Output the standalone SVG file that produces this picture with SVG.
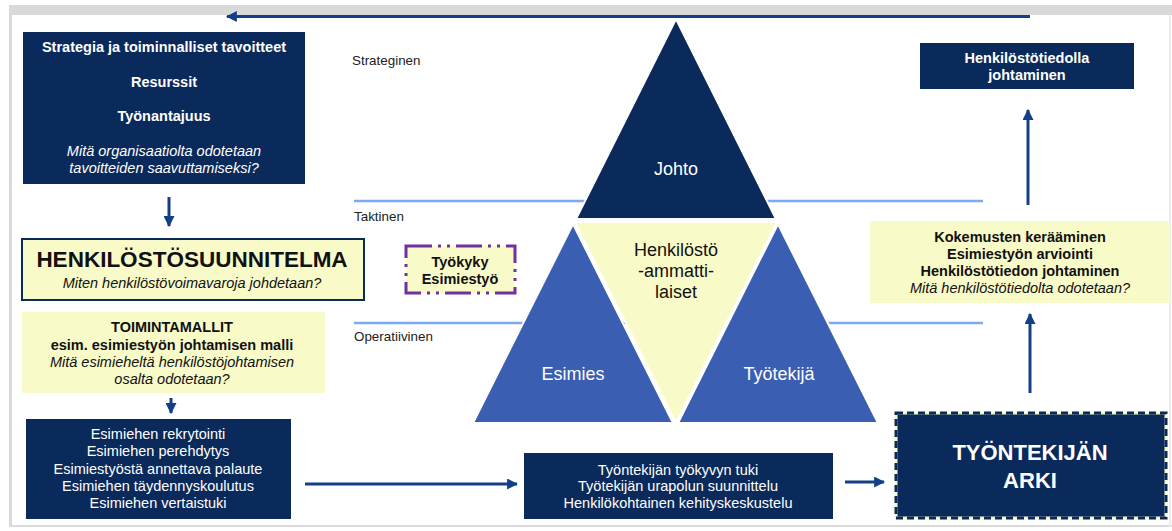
<svg xmlns="http://www.w3.org/2000/svg" width="1172" height="531" viewBox="0 0 1172 531">
  <style>
    text { font-family: "Liberation Sans", Arial, sans-serif; }
    .navy { fill: #0B2A5C; }
    .cream { fill: #F8FAC8; }
    .wt { fill: #FFFFFF; font-size: 14.5px; text-anchor: middle; }
    .bk { fill: #111111; font-size: 14.5px; text-anchor: middle; }
    .b { font-weight: bold; }
    .i { font-style: italic; }
    .lvl { fill: #222222; font-size: 13.4px; }
    .big { font-size: 18px; }
    .band { stroke: #7BAAF0; stroke-width: 2.5; }
    .conn { stroke: #123F86; stroke-width: 3; fill: none; }
    .tri { stroke: #FFFFFF; stroke-width: 2; stroke-linejoin: miter; }
  </style>
  <defs>
    <marker id="head" viewBox="0 0 10 10" refX="9" refY="5" markerWidth="11" markerHeight="11" markerUnits="userSpaceOnUse" orient="auto">
      <path d="M0,0 L10,5 L0,10 Z" fill="#123F86"/>
    </marker>
  </defs>

  <!-- page frame -->
  <rect x="0" y="0" width="1172" height="531" fill="#FFFFFF"/>
  <rect x="10" y="5" width="1162" height="10" fill="#D9D9D9"/>
  <rect x="9" y="5" width="3" height="522" fill="#D9D9D9"/>
  <rect x="9" y="525" width="1163" height="2" fill="#D9D9D9"/>
  <rect x="1169" y="15" width="2" height="512" fill="#ECECEC"/>

  <!-- level bands -->
  <line class="band" x1="354" y1="201" x2="983" y2="201"/>
  <line class="band" x1="354" y1="323" x2="983" y2="323"/>
  <text class="lvl" x="352" y="65">Strateginen</text>
  <text class="lvl" x="354" y="221">Taktinen</text>
  <text class="lvl" x="354" y="341">Operatiivinen</text>

  <!-- triangle model -->
  <g id="johto">
    <polygon class="tri navy" points="676,19 776,219 576,219"/>
    <text class="wt big" x="676" y="175">Johto</text>
  </g>
  <g id="henkilostoammattilaiset">
    <polygon class="tri cream" points="575,222 777,222 676,423"/>
    <text class="bk big" x="676" y="256">Henkilöstö</text>
    <text class="bk big" x="676" y="277">-ammatti-</text>
    <text class="bk big" x="676" y="298">laiset</text>
  </g>
  <g id="esimies">
    <polygon points="573,224 673,423 473,423" fill="#3A5EB2" class="tri"/>
    <text class="wt big" x="573" y="380">Esimies</text>
  </g>
  <g id="tyontekija">
    <polygon points="778,224 878,423 678,423" fill="#3A5EB2" class="tri"/>
    <text class="wt big" x="779" y="380">Työtekijä</text>
  </g>

  <!-- left column -->
  <g id="strategia">
    <rect class="navy" x="23" y="32" width="282" height="152"/>
    <text class="wt b" x="164" y="52">Strategia ja toiminnalliset tavoitteet</text>
    <text class="wt b" x="164" y="87">Resurssit</text>
    <text class="wt b" x="164" y="121">Työnantajuus</text>
    <text class="wt i" x="164" y="156">Mitä organisaatiolta odotetaan</text>
    <text class="wt i" x="164" y="173">tavoitteiden saavuttamiseksi?</text>
  </g>
  <g id="henkilostosuunnitelma">
    <rect class="cream" x="22" y="239" width="342" height="61" stroke="#0B2A5C" stroke-width="2"/>
    <text class="bk b" x="192" y="267" style="font-size:22.5px">HENKILÖSTÖSUUNNITELMA</text>
    <text class="bk i" x="192" y="288">Miten henkilöstövoimavaroja johdetaan?</text>
  </g>
  <g id="toimintamallit">
    <rect class="cream" x="22" y="312" width="303" height="81"/>
    <text class="bk b" x="172" y="332">TOIMINTAMALLIT</text>
    <text class="bk b" x="172" y="350">esim. esimiestyön johtamisen malli</text>
    <text class="bk i" x="172" y="367">Mitä esimieheltä henkilöstöjohtamisen</text>
    <text class="bk i" x="172" y="384">osalta odotetaan?</text>
  </g>
  <g id="esimiestoiminnot">
    <rect class="navy" x="26" y="419" width="265" height="100"/>
    <text class="wt" x="158" y="439">Esimiehen rekrytointi</text>
    <text class="wt" x="158" y="456">Esimiehen perehdytys</text>
    <text class="wt" x="158" y="474">Esimiestyöstä annettava palaute</text>
    <text class="wt" x="158" y="491">Esimiehen täydennyskoulutus</text>
    <text class="wt" x="158" y="508">Esimiehen vertaistuki</text>
  </g>

  <!-- tool box -->
  <g id="tyokyky">
    <rect class="cream" x="406" y="246" width="109" height="47" stroke="#7030A0" stroke-width="3" stroke-dasharray="26 6 3 6 3 6"/>
    <text class="bk b" x="460" y="267">Työkyky</text>
    <text class="bk b" x="460" y="284">Esimiestyö</text>
  </g>

  <!-- bottom row -->
  <g id="tyontekijatoiminnot">
    <rect class="navy" x="524" y="453" width="309" height="66"/>
    <text class="wt" x="678" y="475">Työntekijän työkyvyn tuki</text>
    <text class="wt" x="678" y="491">Työtekijän urapolun suunnittelu</text>
    <text class="wt" x="678" y="508">Henkilökohtainen kehityskeskustelu</text>
  </g>
  <g id="arki">
    <rect class="navy" x="896" y="413" width="270" height="105" stroke="#F8FAC8" stroke-width="3"/>
    <rect x="896" y="413" width="270" height="105" fill="none" stroke="#0B2A5C" stroke-width="3" stroke-dasharray="7 4"/>
    <text class="wt b" x="1030" y="460" style="font-size:22px">TYÖNTEKIJÄN</text>
    <text class="wt b" x="1030" y="488" style="font-size:22px">ARKI</text>
  </g>

  <!-- right column -->
  <g id="kokemukset">
    <rect class="cream" x="870" y="221" width="300" height="82"/>
    <text class="bk b" x="1020" y="242">Kokemusten kerääminen</text>
    <text class="bk b" x="1020" y="259">Esimiestyön arviointi</text>
    <text class="bk b" x="1020" y="276">Henkilöstötiedon johtaminen</text>
    <text class="bk i" x="1020" y="293">Mitä henkilöstötiedolta odotetaan?</text>
  </g>
  <g id="henkilostotieto">
    <rect class="navy" x="920" y="43" width="214" height="46"/>
    <text class="wt b" x="1027" y="63">Henkilöstötiedolla</text>
    <text class="wt b" x="1027" y="80">johtaminen</text>
  </g>

  <!-- connectors -->
  <g id="connectors">
    <line class="conn" x1="1030" y1="16.5" x2="227" y2="16.5" marker-end="url(#head)"/>
    <line class="conn" x1="169" y1="197" x2="169" y2="226" marker-end="url(#head)"/>
    <line class="conn" x1="171" y1="398" x2="171" y2="413" marker-end="url(#head)"/>
    <line class="conn" x1="305" y1="484" x2="517" y2="484" marker-end="url(#head)"/>
    <line class="conn" x1="845" y1="482" x2="884" y2="482" marker-end="url(#head)"/>
    <line class="conn" x1="1030" y1="393" x2="1030" y2="314" marker-end="url(#head)"/>
    <line class="conn" x1="1028" y1="205" x2="1028" y2="110" marker-end="url(#head)"/>
  </g>
</svg>
